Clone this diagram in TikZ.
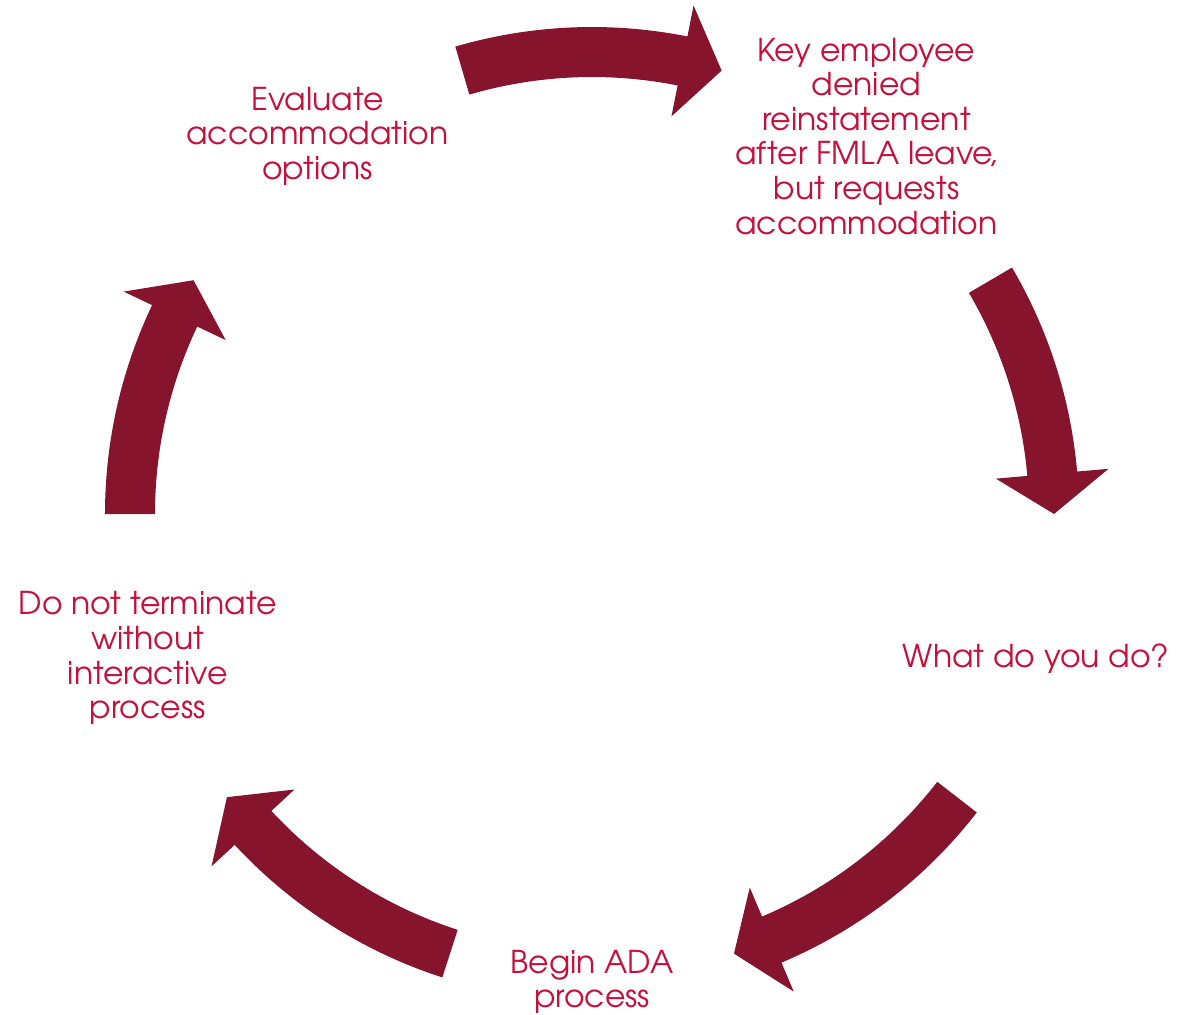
\documentclass[tikz,border=0pt]{standalone}
\usepackage{fontspec}
\setmainfont{TeX Gyre Adventor}
\usepackage{xcolor}
\definecolor{cycmaroon}{HTML}{86142C}
\definecolor{cyccrimson}{HTML}{C4103C}
\tikzset{
  steplabel/.style={
    text=cyccrimson, align=center, inner sep=0pt,
    font=\fontsize{17.9}{19.7}\selectfont
  },
  cyclearrow/.style={fill=cycmaroon, draw=none}
}

\begin{document}
\begin{tikzpicture}[x=0.02cm, y=0.02cm]
  \useasboundingbox (-592,-501) rectangle (586,514);

  \node[steplabel] (keyemp)   at (54:467)  {Key employee\\denied\\reinstatement\\after FMLA leave\kern-2.5pt,\\but requests\\accommodation};
  \node[steplabel] (whatdo)   at (-18:467) {What do you do?};
  \node[steplabel] (adastart) at (-90:468) {Begin ADA\\process};
  \node[steplabel] (noterm)   at (198:467) {Do not terminate\\without\\interactive\\process};
  \node[steplabel] (evalopt)  at (126:467) {Evaluate\\accommodation\\options};

  % block arcs round the cycle: start angle / tip angle
  \foreach \a/\t in {106.3/73.7, 30.4/0, -37.8/-72.1, -107.9/-142.2, 180/149.6}
  {
    \pgfmathsetmacro\b{\t+5}
    \fill[cyclearrow] (\a:487) arc[start angle=\a, end angle=\b, radius=487]
      -- (\b:518.5) -- (\t:462) -- (\b:405.5) -- (\b:437)
      arc[start angle=\b, end angle=\a, radius=437] -- cycle;
  }
\end{tikzpicture}
\end{document}
